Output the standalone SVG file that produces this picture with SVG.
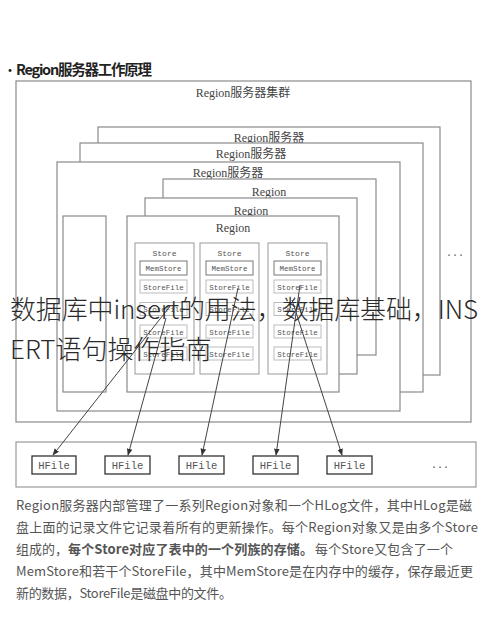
<svg xmlns="http://www.w3.org/2000/svg" width="490" height="641" viewBox="0 0 490 641">
<style>
.bx{fill:#fff;stroke:#8a8a8a;stroke-width:1.2}
.st{fill:#fff;stroke:#999;stroke-width:1}
.ms{fill:#fff;stroke:#777;stroke-width:1}
.sf{fill:#fff;stroke:#bbb;stroke-width:1}
.hf{fill:#fff;stroke:#333;stroke-width:1.3}
.lbl{font-family:"Liberation Serif","Noto Sans CJK SC",serif;font-size:12px;fill:#444;text-anchor:middle}
.mono{font-family:"Liberation Mono",monospace;fill:#555;text-anchor:middle}
.para{font-family:"Noto Sans CJK SC","Noto Sans",sans-serif;font-size:13px;fill:#555}
.conn{stroke:#444;stroke-width:1;fill:none;marker-end:url(#ah)}
</style>
<defs>
<marker id="ah" viewBox="0 0 10 10" refX="9" refY="5" markerWidth="7" markerHeight="7" orient="auto" markerUnits="userSpaceOnUse">
<path d="M0,1 L10,5 L0,9 z" fill="#333"/>
</marker>
</defs>
<rect width="490" height="641" fill="#fff"/>

<g id="title">
<text x="3" y="75" font-family="Noto Sans CJK SC,sans-serif" font-size="14" fill="#222">•</text>
<text x="16" y="75" font-family="Noto Sans CJK SC,sans-serif" font-size="14.5" font-weight="bold" fill="#222" textLength="136">Region服务器工作原理</text>
</g>

<g id="cluster">
<rect class="bx" x="16" y="81" width="455" height="341"/>
<text class="lbl" x="243" y="97">Region服务器集群</text>
<text class="mono" x="455" y="256" font-size="10">...</text>
</g>

<g id="server-a">
<rect class="bx" x="98" y="127" width="342" height="248"/>
<text class="lbl" x="269" y="142">Region服务器</text>
</g>
<g id="server-b">
<rect class="bx" x="80" y="143" width="343" height="249"/>
<text class="lbl" x="251" y="158">Region服务器</text>
</g>
<g id="server-c">
<rect class="bx" x="57" y="162" width="343" height="249"/>
<text class="lbl" x="228" y="177">Region服务器</text>
</g>

<g id="left-box">
<rect class="bx" x="63" y="216" width="43" height="176"/>
</g>

<g id="region-1">
<rect class="bx" x="163" y="179" width="213" height="176"/>
<text class="lbl" x="269" y="196">Region</text>
</g>
<g id="region-2">
<rect class="bx" x="145" y="198" width="212" height="176"/>
<text class="lbl" x="251" y="215">Region</text>
</g>
<g id="region-3">
<rect class="bx" x="127" y="216" width="212" height="176"/>
<text class="lbl" x="233" y="232">Region</text>
</g>

<g id="store-1">
<rect class="st" x="135" y="243" width="59" height="131"/>
<text class="mono" x="164.5" y="256" font-size="8">Store</text>
<rect class="ms" x="140" y="261" width="47" height="14"/>
<text class="mono" x="163.5" y="271" font-size="7.5">MemStore</text>
<rect class="sf" x="140" y="280" width="47" height="13"/>
<text class="mono" x="163.5" y="289.5" font-size="7.5" fill="#aaa">StoreFile</text>
<rect class="sf" x="140" y="302.5" width="47" height="13"/>
<text class="mono" x="163.5" y="312" font-size="7.5" fill="#aaa">StoreFile</text>
<rect class="sf" x="140" y="325" width="47" height="13"/>
<text class="mono" x="163.5" y="334.5" font-size="7.5" fill="#aaa">StoreFile</text>
<rect class="sf" x="140" y="347" width="47" height="13"/>
<text class="mono" x="163.5" y="356.5" font-size="7.5" fill="#aaa">StoreFile</text>
</g>
<g id="store-2">
<rect class="st" x="200" y="243" width="59" height="131"/>
<text class="mono" x="229.5" y="256" font-size="8">Store</text>
<rect class="ms" x="206" y="261" width="47" height="14"/>
<text class="mono" x="229.5" y="271" font-size="7.5">MemStore</text>
<rect class="sf" x="206" y="280" width="47" height="13"/>
<text class="mono" x="229.5" y="289.5" font-size="7.5" fill="#aaa">StoreFile</text>
<rect class="sf" x="206" y="302.5" width="47" height="13"/>
<text class="mono" x="229.5" y="312" font-size="7.5" fill="#aaa">StoreFile</text>
<rect class="sf" x="206" y="325" width="47" height="13"/>
<text class="mono" x="229.5" y="334.5" font-size="7.5" fill="#aaa">StoreFile</text>
<rect class="sf" x="206" y="347" width="47" height="13"/>
<text class="mono" x="229.5" y="356.5" font-size="7.5" fill="#aaa">StoreFile</text>
</g>
<g id="store-3">
<rect class="st" x="268" y="243" width="59" height="131"/>
<text class="mono" x="297.5" y="256" font-size="8">Store</text>
<rect class="ms" x="274" y="261" width="47" height="14"/>
<text class="mono" x="297.5" y="271" font-size="7.5">MemStore</text>
<rect class="sf" x="274" y="280" width="47" height="13"/>
<text class="mono" x="297.5" y="289.5" font-size="7.5" fill="#aaa">StoreFile</text>
<rect class="sf" x="274" y="302.5" width="47" height="13"/>
<text class="mono" x="297.5" y="312" font-size="7.5" fill="#aaa">StoreFile</text>
<rect class="sf" x="274" y="325" width="47" height="13"/>
<text class="mono" x="297.5" y="334.5" font-size="7.5" fill="#aaa">StoreFile</text>
<rect class="sf" x="274" y="347" width="47" height="13"/>
<text class="mono" x="297.5" y="356.5" font-size="7.5" fill="#aaa">StoreFile</text>
</g>

<g id="hfile-row">
<rect x="16" y="442" width="460" height="45" fill="#fff" stroke="#999" stroke-width="1.2"/>
<text class="mono" x="440" y="468" font-size="10">...</text>
</g>
<g id="hfile-1"><rect class="hf" x="32" y="456" width="44" height="18"/><text class="mono" x="54" y="469" font-size="10.5" fill="#333">HFile</text></g>
<g id="hfile-2"><rect class="hf" x="105" y="456" width="45" height="18"/><text class="mono" x="127.5" y="469" font-size="10.5" fill="#333">HFile</text></g>
<g id="hfile-3"><rect class="hf" x="179" y="456" width="45" height="18"/><text class="mono" x="201.5" y="469" font-size="10.5" fill="#333">HFile</text></g>
<g id="hfile-4"><rect class="hf" x="253" y="456" width="45" height="18"/><text class="mono" x="275.5" y="469" font-size="10.5" fill="#333">HFile</text></g>
<g id="hfile-5"><rect class="hf" x="327" y="456" width="45" height="18"/><text class="mono" x="349.5" y="469" font-size="10.5" fill="#333">HFile</text></g>

<g id="connectors">
<line class="conn" x1="171" y1="305" x2="53" y2="455"/>
<line class="conn" x1="166" y1="318" x2="128" y2="455"/>
<line class="conn" x1="238" y1="288" x2="202" y2="455"/>
<line class="conn" x1="300" y1="285" x2="276" y2="455"/>
<line class="conn" x1="292" y1="300" x2="342" y2="455"/>
</g>

<g id="overlay-title">
<text x="10" y="319" font-family="Noto Sans CJK SC,sans-serif" font-weight="300" font-size="26" fill="#2a2a2a" textLength="468" lengthAdjust="spacing">数据库中insert的用法，数据库基础，INS</text>
<text x="10" y="359" font-family="Noto Sans CJK SC,sans-serif" font-weight="300" font-size="26" fill="#2a2a2a">ERT语句操作指南</text>
</g>

<g id="description">
<text class="para" x="16" y="510" textLength="456" lengthAdjust="spacing">Region服务器内部管理了一系列Region对象和一个HLog文件，其中HLog是磁</text>
<text class="para" x="16" y="532" textLength="462" lengthAdjust="spacing">盘上面的记录文件它记录着所有的更新操作。每个Region对象又是由多个Store</text>
<text class="para" x="16" y="554">组成的，</text>
<text class="para" x="68" y="554" font-weight="bold" fill="#222" textLength="245" lengthAdjust="spacing">每个Store对应了表中的一个列族的存储。</text>
<text class="para" x="315" y="554" textLength="138" lengthAdjust="spacing">每个Store又包含了一个</text>
<text class="para" x="16" y="576" textLength="457" lengthAdjust="spacing">MemStore和若干个StoreFile，其中MemStore是在内存中的缓存，保存最近更</text>
<text class="para" x="16" y="598" textLength="216" lengthAdjust="spacing">新的数据，StoreFile是磁盘中的文件。</text>
</g>
</svg>
